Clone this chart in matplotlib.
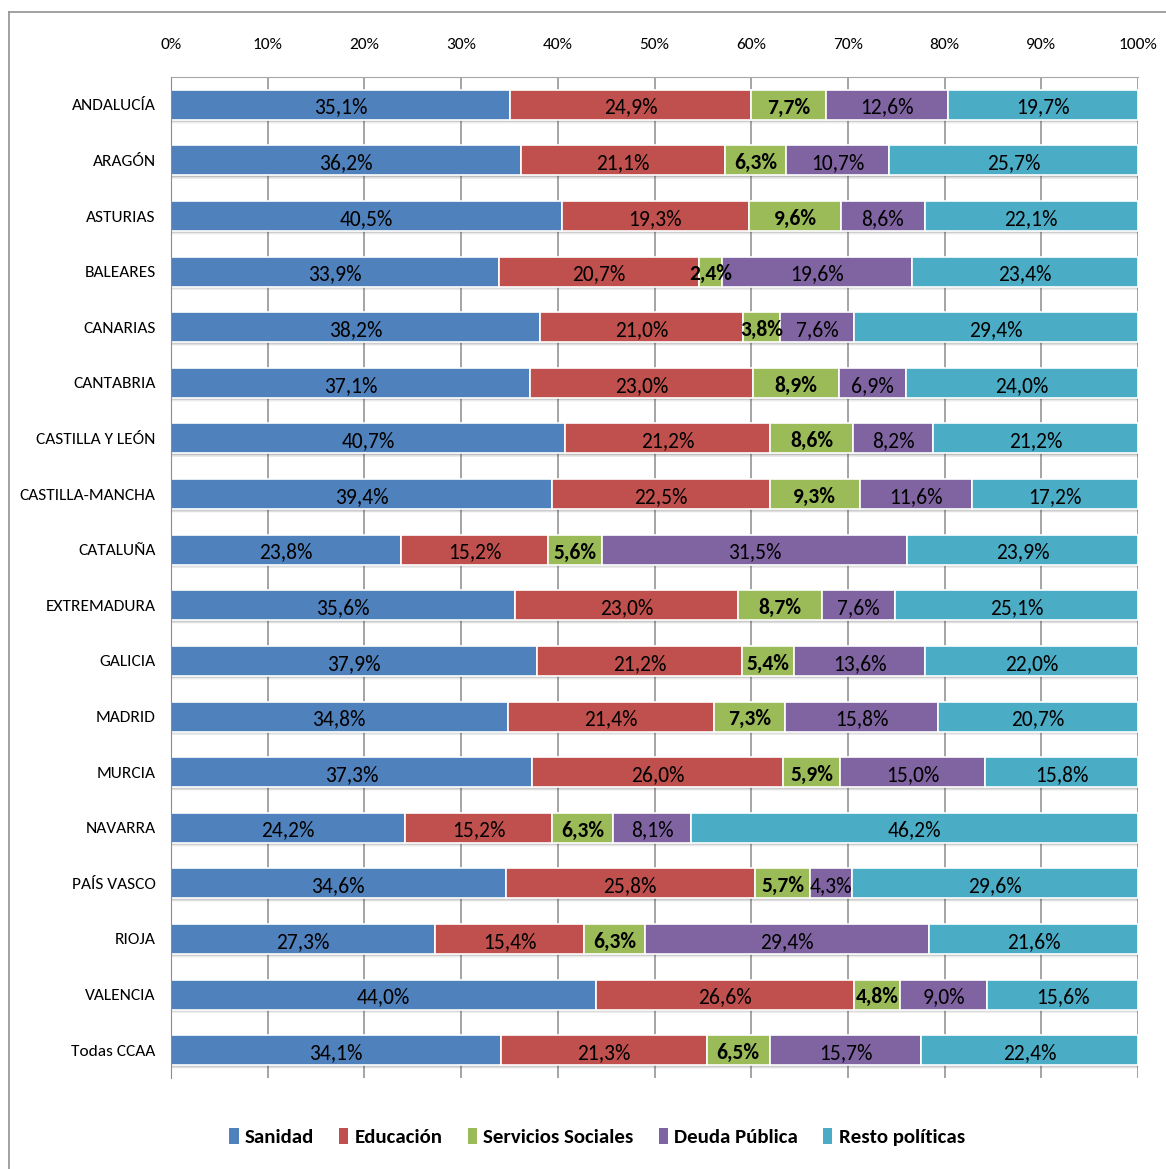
import numpy as np
import matplotlib
matplotlib.use('Agg')
import matplotlib.pyplot as plt
from matplotlib import font_manager
from matplotlib.patches import Patch
from matplotlib.lines import Line2D

# Calibri-metric face when present, otherwise Liberation Sans a touch smaller
names = {f.name for f in font_manager.fontManager.ttflist}
if 'Carlito' in names:
    face, k = 'Carlito', 1.0
else:
    face, k = 'Liberation Sans', 0.9
plt.rcParams['font.family'] = [face, 'DejaVu Sans']

regions = ['ANDALUCÍA', 'ARAGÓN', 'ASTURIAS', 'BALEARES', 'CANARIAS', 'CANTABRIA',
           'CASTILLA Y LEÓN', 'CASTILLA-MANCHA', 'CATALUÑA', 'EXTREMADURA', 'GALICIA',
           'MADRID', 'MURCIA', 'NAVARRA', 'PAÍS VASCO', 'RIOJA', 'VALENCIA', 'Todas CCAA']

series = ['Sanidad', 'Educación', 'Servicios Sociales', 'Deuda Pública', 'Resto políticas']
colors = ['#4F81BD', '#C0504D', '#9BBB59', '#8064A2', '#4BACC6']

sanidad = [35.1, 36.2, 40.5, 33.9, 38.2, 37.1, 40.7, 39.4, 23.8, 35.6, 37.9, 34.8, 37.3, 24.2, 34.6, 27.3, 44.0, 34.1]
educacion = [24.9, 21.1, 19.3, 20.7, 21.0, 23.0, 21.2, 22.5, 15.2, 23.0, 21.2, 21.4, 26.0, 15.2, 25.8, 15.4, 26.6, 21.3]
servicios = [7.7, 6.3, 9.6, 2.4, 3.8, 8.9, 8.6, 9.3, 5.6, 8.7, 5.4, 7.3, 5.9, 6.3, 5.7, 6.3, 4.8, 6.5]
deuda = [12.6, 10.7, 8.6, 19.6, 7.6, 6.9, 8.2, 11.6, 31.5, 7.6, 13.6, 15.8, 15.0, 8.1, 4.3, 29.4, 9.0, 15.7]
resto = [19.7, 25.7, 22.1, 23.4, 29.4, 24.0, 21.2, 17.2, 23.9, 25.1, 22.0, 20.7, 15.8, 46.2, 29.6, 21.6, 15.6, 22.4]

values = np.array([sanidad, educacion, servicios, deuda, resto])
# 100% stacked: each row scaled to its own total
shares = values / values.sum(axis=0) * 100

fig = plt.figure(figsize=(11.66, 11.69), dpi=100)
ax = fig.add_axes([171 / 1166, 1 - 1078 / 1169, 967 / 1166, 1001 / 1169])

y = np.arange(len(regions))
h = 0.54

# soft shadow under each bar
total = shares.sum(axis=0)
for n, a in enumerate([0.10, 0.10, 0.08, 0.06, 0.04]):
    ax.barh(y + 0.02 + 0.012 * n, total, height=h, left=0, color='#404040',
            alpha=a, linewidth=0, zorder=1)

left = np.zeros(len(regions))
for i, name in enumerate(series):
    ax.barh(y, shares[i], height=h, left=left, color=colors[i],
            edgecolor='white', linewidth=1.2, zorder=2, label=name)
    for j in range(len(regions)):
        ax.text(left[j] + shares[i][j] / 2, y[j] + 0.05, f'{values[i][j]:.1f}%'.replace('.', ','),
                ha='center', va='center', fontsize=15.5 * k, color='black',
                fontweight='bold' if i == 2 else 'normal', zorder=3)
    left += shares[i]

ax.set_xlim(0, 100)
ax.set_ylim(len(regions) - 0.5, -0.5)
ax.set_xticks(np.arange(0, 101, 10))
ax.set_xticklabels([f'{v}%' for v in range(0, 101, 10)])
ax.set_yticks(y)
ax.set_yticklabels(regions)
ax.xaxis.tick_top()
ax.tick_params(axis='x', length=0, pad=18, labelsize=12.5 * k)
ax.tick_params(axis='y', length=0, pad=11, labelsize=12.5 * k)
ax.grid(axis='x', color='#8c8c8c', linewidth=1.1, zorder=0)
ax.set_axisbelow(True)
for s in ['right', 'bottom']:
    ax.spines[s].set_visible(False)
ax.spines['top'].set_color('#a6a6a6')
ax.spines['left'].set_color('#8c8c8c')

handles = [Patch(facecolor=c, edgecolor='none') for c in colors]
fig.legend(handles, series, loc='center', bbox_to_anchor=(597 / 1166, 1 - 1137 / 1169),
           ncol=5, frameon=False, prop={'weight': 'bold', 'size': 15 * k},
           handlelength=0.45, handleheight=0.8, handletextpad=0.3, columnspacing=1.2)

# chart border (only the left and top edges show)
fig.add_artist(Line2D([9 / 1166, 9 / 1166], [0, 1 - 12 / 1169], color='#9a9a9a', lw=1.3))
fig.add_artist(Line2D([9 / 1166, 1], [1 - 12 / 1169, 1 - 12 / 1169], color='#9a9a9a', lw=1.3))

fig.savefig('out.png', dpi=100)
